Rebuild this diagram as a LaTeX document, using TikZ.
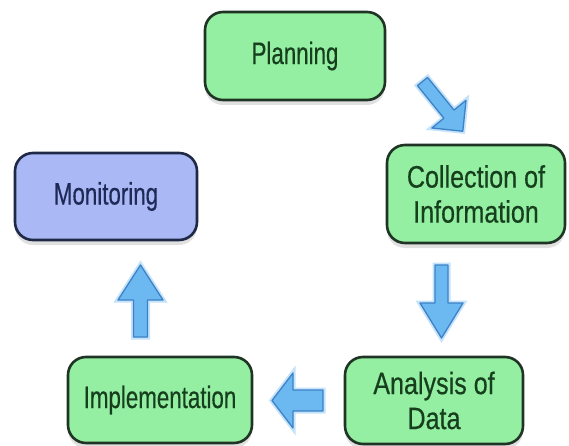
\documentclass[tikz,border=0pt]{standalone}
\usepackage{fontspec}
\setmainfont{Liberation Sans}
\newfontfamily\boxfont[FakeStretch=0.72,FakeBold=0.4]{Liberation Sans}
\newfontfamily\boxfontw[FakeStretch=0.81,FakeBold=0.4]{Liberation Sans}
\usetikzlibrary{shadows}
\definecolor{boxgreen}{HTML}{94EFA2}
\definecolor{boxblue}{HTML}{AAB9F6}
\definecolor{greenline}{HTML}{1F3424}
\definecolor{blueline}{HTML}{1F2946}
\definecolor{greentext}{HTML}{173F1E}
\definecolor{bluetext}{HTML}{1E2A55}
\definecolor{arrowfill}{HTML}{6CB8F1}
\definecolor{arrowline}{HTML}{3D82C6}
\definecolor{arrowglow}{HTML}{C4E3FA}
\tikzset{
  basebox/.style={rounded corners=18pt, line width=2.6pt, inner sep=0pt, align=center,
    general shadow={shadow yshift=-5pt, shadow xshift=0pt, fill=black, opacity=.12},
    font=\boxfont\fontsize{31}{35}\selectfont},
  gbox/.style={basebox, fill=boxgreen, draw=greenline, text=greentext},
  bbox/.style={basebox, fill=boxblue, draw=blueline, text=bluetext},
  wide/.style={font=\boxfontw\fontsize{31}{35}\selectfont},
  blockarrow/.style={fill=arrowfill, draw=arrowline, line width=1.3pt, line join=round,
    preaction={draw=arrowglow, line width=5pt}}
}
\begin{document}
\begin{tikzpicture}[x=1pt,y=-1pt]
\useasboundingbox (0,0) rectangle (569,446);
\fill[white] (0,0) rectangle (569,446);

\node[gbox, minimum width=180pt, minimum height=88pt] (plan) at (295,56) {Planning};
\node[gbox, wide, minimum width=178pt, minimum height=98pt] (coll) at (476,194) {Collection of\\Information};
\node[bbox, minimum width=182pt, minimum height=87pt] (mon) at (106,196.5) {Monitoring};
\node[gbox, minimum width=184pt, minimum height=86pt] (impl) at (160,400) {Implementation};
\node[gbox, wide, minimum width=178pt, minimum height=87pt] (ana) at (434,400.5) {Analysis of\\Data};

% Planning -> Collection (diagonal)
\begin{scope}[shift={(422.5,81.5)}, rotate=-51]
  \draw[blockarrow] (0,6.5) -- (42,6.5) -- (42,22) -- (64,0) -- (42,-22) -- (42,-6.5) -- (0,-6.5) -- cycle;
\end{scope}
% Collection -> Analysis (down)
\draw[blockarrow] (435,265) -- (435,303) -- (420,303) -- (441.5,338) -- (463,303) -- (448,303) -- (448,265) -- cycle;
% Analysis -> Implementation (left)
\draw[blockarrow] (323,390) -- (293,390) -- (293,373) -- (272,400.5) -- (293,428) -- (293,411) -- (323,411) -- cycle;
% Implementation -> Monitoring (up)
\draw[blockarrow] (133.5,337) -- (133.5,300) -- (118,300) -- (140.5,265) -- (163,300) -- (147.5,300) -- (147.5,337) -- cycle;
\end{tikzpicture}
\end{document}
